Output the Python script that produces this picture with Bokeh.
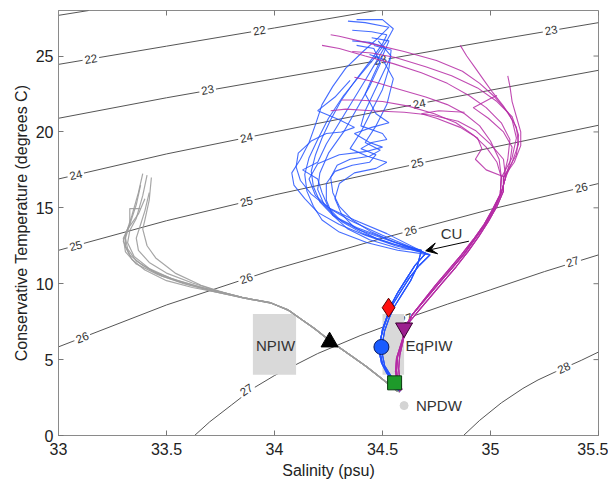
from bokeh.plotting import figure
from bokeh.models import Range1d, FixedTicker, Arrow, VeeHead, ColumnDataSource
from bokeh.core.properties import value
from bokeh.embed import file_html
from bokeh.resources import INLINE

# ---------------- axes ----------------
X_MIN, X_MAX = 33, 35.5
Y_MIN, Y_MAX = 0, 28
X_TICKS = [33, 33.5, 34, 34.5, 35, 35.5]
X_TICK_LABELS = ["33", "33.5", "34", "34.5", "35", "35.5"]
Y_TICKS = [0, 5, 10, 15, 20, 25]
Y_TICK_LABELS = ["0", "5", "10", "15", "20", "25"]

# ---------------- isopycnals (sigma) ----------------
C21_S = [33.0, 33.14]
C21_T = [27.68, 28.0]
C22_S = [33.0, 33.5, 34.0, 34.47]
C22_T = [24.45, 25.65, 26.85, 28.0]
C23_S = [33.0, 33.5, 34.0, 34.5, 35.0, 35.5]
C23_T = [20.9, 22.25, 23.5, 24.75, 26.0, 27.2]
C24_S = [33.0, 33.5, 34.0, 34.5, 35.0, 35.5]
C24_T = [16.9, 18.55, 20.0, 21.4, 22.75, 24.06]
C25_S = [33.0, 33.5, 34.0, 34.5, 35.0, 35.5]
C25_T = [12.2, 14.15, 15.85, 17.4, 18.95, 20.44]
C26_S = [33.0, 33.5, 34.0, 34.5, 35.0, 35.5]
C26_T = [5.84, 8.6, 10.95, 13.0, 14.9, 16.6]
C27_S = [33.63, 33.7, 33.8, 33.9, 34.0, 34.2, 34.4, 34.6, 34.8, 35.0, 35.25, 35.5]
C27_T = [0.0, 0.9, 2.0, 3.1, 3.95, 5.4, 6.6, 7.66, 8.65, 9.6, 10.8, 11.9]
C28_S = [34.875, 34.95, 35.05, 35.15, 35.22, 35.30, 35.42, 35.5]
C28_T = [0.0, 1.0, 2.15, 3.1, 3.66, 4.19, 4.95, 5.5]

CLABEL_TEXT = ["22", "22", "23", "23", "23", "24", "24", "24", "25", "25", "25",
               "26", "26", "26", "26", "27", "27", "27", "28"]
CLABEL_S = [33.15, 33.93, 33.69, 34.49, 35.28, 33.08, 33.87, 34.67, 33.08, 33.87, 34.66,
            33.11, 33.87, 34.63, 35.42, 33.87, 34.61, 35.38, 35.34]
CLABEL_T = [24.8, 26.68, 22.77, 24.75, 26.7, 17.16, 19.62, 21.86, 12.5, 15.41, 17.95,
            6.45, 10.34, 13.49, 16.33, 3.0, 7.7, 11.45, 4.45]
CLABEL_ANGLE_DEG = [9.7, 9.7, 10.2, 10.2, 10.2, 13.0, 11.5, 10.8, 15.3, 13.5, 12.3,
                    21.0, 18.3, 15.0, 13.5, 33.0, 19.6, 17.5, 24.6]

# ---------------- water-mass boxes ----------------
BOX_S_MIN = [33.90, 34.50]
BOX_S_MAX = [34.10, 34.60]
BOX_T_MIN = [4.0, 4.0]
BOX_T_MAX = [8.0, 8.0]

# ---------------- gray profiles (NPIW region) ----------------
GT_A_S = [33.85, 33.98, 34.06, 34.12, 34.18, 34.26, 34.34, 34.42, 34.50, 34.57]
GT_A_T = [9.1, 8.75, 8.3, 7.7, 7.1, 6.2, 5.4, 4.6, 3.7, 2.9]
GT_B_S = [33.86, 33.99, 34.07, 34.13, 34.19, 34.27, 34.35, 34.43, 34.51, 34.58]
GT_B_T = [9.05, 8.7, 8.2, 7.6, 7.0, 6.1, 5.3, 4.5, 3.6, 2.85]

G1_S = [33.39, 33.37, 33.34, 33.31, 33.31, 33.34, 33.40, 33.50, 33.62, 33.75]
G1_T = [17.25, 16.0, 14.5, 13.2, 12.4, 11.6, 10.9, 10.2, 9.75, 9.4]
G2_S = [33.43, 33.42, 33.40, 33.39, 33.41, 33.45, 33.54, 33.66, 33.78]
G2_T = [17.0, 15.5, 14.2, 13.6, 12.5, 11.7, 10.7, 9.9, 9.35]
G3_S = [33.41, 33.39, 33.36, 33.33, 33.32, 33.35, 33.42, 33.52, 33.65, 33.77]
G3_T = [17.15, 15.8, 14.3, 13.5, 12.7, 11.8, 11.0, 10.35, 9.8, 9.4]
G4_S = [33.38, 33.36, 33.33, 33.30, 33.31, 33.36, 33.46, 33.58, 33.70]
G4_T = [16.5, 15.2, 13.9, 13.0, 12.1, 11.3, 10.6, 10.0, 9.55]
G5_S = [33.42, 33.40, 33.38, 33.36, 33.37, 33.42, 33.50, 33.62, 33.74]
G5_T = [16.0, 14.8, 13.9, 13.0, 12.2, 11.4, 10.7, 10.05, 9.5]
G6_S = [33.40, 33.37, 33.32, 33.30, 33.33, 33.39, 33.48, 33.60, 33.72]
G6_T = [15.6, 14.6, 13.6, 12.8, 11.9, 11.2, 10.5, 9.95, 9.5]
G7_S = [33.38, 33.33, 33.33, 33.31, 33.32, 33.36, 33.44, 33.55, 33.68, 33.78]
G7_T = [14.95, 14.95, 13.9, 13.0, 12.3, 11.5, 10.8, 10.2, 9.7, 9.35]

# ---------------- blue profiles ----------------
BL_A_S = [34.58, 34.56, 34.53, 34.50, 34.49, 34.49, 34.50, 34.52, 34.54, 34.57, 34.61, 34.65, 34.70]
BL_A_T = [2.9, 3.4, 4.0, 4.7, 5.4, 6.2, 7.0, 7.8, 8.6, 9.4, 10.3, 11.2, 12.0]
BL_B_S = [34.57, 34.55, 34.52, 34.495, 34.485, 34.49, 34.505, 34.525, 34.55, 34.585, 34.625, 34.67, 34.72]
BL_B_T = [3.0, 3.5, 4.1, 4.8, 5.5, 6.3, 7.1, 7.9, 8.7, 9.5, 10.4, 11.2, 11.9]
BL_C_S = [34.58, 34.565, 34.54, 34.51, 34.50, 34.50, 34.51, 34.53, 34.555, 34.59, 34.63, 34.66, 34.68]
BL_C_T = [2.9, 3.3, 3.9, 4.6, 5.3, 6.1, 6.9, 7.7, 8.5, 9.3, 10.2, 11.1, 12.2]

B1_S = [34.56, 34.42, 34.30, 34.20, 34.14, 34.09, 34.08, 34.12, 34.16, 34.19, 34.22, 34.27, 34.33, 34.41, 34.48, 34.53, 34.42, 34.34]
B1_T = [12.5, 13.2, 13.9, 14.7, 15.6, 16.5, 17.3, 18.2, 19.3, 20.5, 21.8, 23.0, 24.2, 25.3, 26.2, 26.9, 27.2, 27.3]
B2_S = [34.53, 34.38, 34.27, 34.21, 34.18, 34.17, 34.19, 34.22, 34.26, 34.31, 34.38, 34.45, 34.50, 34.52, 34.45, 34.36]
B2_T = [12.9, 13.7, 14.5, 15.4, 16.4, 17.4, 18.5, 19.6, 20.8, 22.1, 23.5, 24.8, 25.8, 26.4, 26.6, 26.7]
B3_S = [34.58, 34.44, 34.34, 34.27, 34.24, 34.24, 34.28, 34.36, 34.44, 34.47, 34.40, 34.45, 34.52, 34.50, 34.40, 34.42, 34.46, 34.50, 34.54, 34.48]
B3_T = [12.3, 12.9, 13.6, 14.5, 15.5, 16.6, 17.4, 17.8, 18.0, 18.5, 18.9, 19.3, 19.5, 19.9, 20.4, 21.4, 22.6, 23.8, 25.0, 26.0]
B4_S = [34.50, 34.36, 34.26, 34.19, 34.16, 34.20, 34.30, 34.42, 34.50, 34.44, 34.37, 34.45, 34.53, 34.47, 34.42, 34.46, 34.50, 34.53, 34.45]
B4_T = [13.2, 14.1, 14.9, 15.8, 16.9, 17.9, 18.5, 18.7, 19.0, 19.3, 19.9, 20.3, 20.6, 21.2, 22.5, 23.8, 25.0, 26.0, 26.2]
B5_S = [34.57, 34.43, 34.30, 34.22, 34.18, 34.15, 34.14, 34.16, 34.20, 34.25, 34.32, 34.40, 34.47, 34.52, 34.55, 34.50, 34.38]
B5_T = [12.2, 12.7, 13.4, 14.2, 15.1, 16.1, 17.2, 18.3, 19.5, 20.9, 22.4, 23.8, 25.0, 26.0, 26.8, 27.4, 27.4]
B6_S = [34.54, 34.40, 34.29, 34.23, 34.20, 34.21, 34.25, 34.32, 34.38, 34.44, 34.49, 34.46, 34.38]
B6_T = [12.8, 13.5, 14.3, 15.2, 16.2, 17.3, 18.6, 20.0, 21.5, 23.0, 24.5, 25.5, 25.7]
B7_S = [34.52, 34.37, 34.25, 34.17, 34.12, 34.10, 34.11, 34.17, 34.24, 34.31, 34.37, 34.30, 34.20, 34.28, 34.35]
B7_T = [13.3, 14.2, 15.0, 15.9, 16.8, 17.7, 18.6, 19.4, 19.9, 20.0, 20.3, 20.8, 21.4, 22.3, 23.4]
B8_S = [34.56, 34.45, 34.36, 34.30, 34.27, 34.26, 34.29, 34.35, 34.44, 34.49, 34.42, 34.47, 34.52, 34.55, 34.50, 34.44]
B8_T = [12.7, 13.4, 14.2, 15.1, 16.0, 17.0, 17.8, 18.2, 18.4, 18.8, 19.3, 20.4, 21.8, 23.5, 24.8, 25.1]
B9_S = [34.55, 34.41, 34.31, 34.25, 34.22, 34.20, 34.13, 34.20, 34.24, 34.30, 34.36, 34.42, 34.47, 34.51, 34.44, 34.36]
B9_T = [12.6, 13.3, 14.1, 15.0, 16.0, 16.9, 17.5, 18.0, 19.2, 20.6, 22.0, 23.4, 24.6, 25.6, 25.9, 26.0]
B10_S = [34.60, 34.47, 34.37, 34.31, 34.28, 34.30, 34.37, 34.47, 34.52, 34.43, 34.35, 34.40, 34.45, 34.50, 34.53, 34.54, 34.46]
B10_T = [12.4, 13.0, 13.7, 14.6, 15.6, 16.6, 17.3, 17.6, 18.0, 18.4, 18.9, 20.0, 21.4, 22.8, 24.2, 25.4, 25.7]

# ---------------- magenta profiles ----------------
ML_A_S = [34.58, 34.57, 34.565, 34.57, 34.59, 34.60, 34.61, 34.64, 34.70, 34.76, 34.82, 34.88, 34.93, 34.98, 35.02, 35.05, 35.07]
ML_A_T = [2.9, 3.5, 4.3, 5.2, 6.1, 6.8, 7.3, 8.0, 9.0, 10.0, 11.0, 12.0, 13.0, 14.0, 15.0, 16.0, 17.0]
ML_B_S = [34.59, 34.58, 34.575, 34.58, 34.595, 34.605, 34.62, 34.66, 34.72, 34.78, 34.84, 34.895, 34.945, 34.99, 35.03, 35.06, 35.06]
ML_B_T = [3.0, 3.6, 4.4, 5.3, 6.2, 6.9, 7.4, 8.1, 9.1, 10.1, 11.1, 12.1, 13.1, 14.1, 15.1, 16.1, 17.0]
ML_C_S = [34.585, 34.57, 34.56, 34.565, 34.585, 34.60, 34.615, 34.635, 34.69, 34.745, 34.805, 34.865, 34.92, 34.97, 35.01, 35.045, 35.05]
ML_C_T = [2.95, 3.4, 4.2, 5.1, 6.0, 6.7, 7.2, 7.9, 8.9, 9.9, 10.9, 11.9, 12.9, 13.9, 14.9, 15.9, 17.0]

M1_S = [35.10, 35.13, 35.12, 35.08, 35.02, 34.95, 34.87, 34.75, 34.60, 34.45, 34.30, 34.26]
M1_T = [18.0, 19.2, 20.3, 21.3, 22.3, 23.2, 24.0, 24.7, 25.3, 25.8, 26.3, 26.4]
M2_S = [35.08, 35.09, 35.05, 34.98, 34.90, 34.80, 34.68, 34.55, 34.42, 34.30, 34.22]
M2_T = [18.2, 19.5, 20.6, 21.6, 22.4, 23.2, 23.9, 24.5, 25.0, 25.5, 25.7]
M3_S = [35.03, 34.98, 34.92, 34.84, 34.74, 34.62, 34.50, 34.38, 34.31]
M3_T = [18.0, 19.0, 19.8, 20.6, 21.2, 21.7, 22.0, 22.1, 22.1]
M4_S = [35.06, 35.00, 34.93, 34.85, 34.73, 34.60, 34.45, 34.33, 34.26]
M4_T = [18.2, 19.2, 20.1, 20.7, 21.1, 21.3, 21.4, 21.5, 21.4]
M5_S = [35.11, 35.14, 35.14, 35.12, 35.10, 35.09, 35.08]
M5_T = [18.0, 19.1, 20.0, 21.0, 22.0, 23.0, 23.7]
M6_S = [35.10, 35.12, 35.10, 35.06, 35.01, 34.97, 34.93, 34.89, 34.86]
M6_T = [18.3, 19.6, 20.8, 21.7, 22.6, 23.4, 24.2, 25.0, 25.7]
M7_S = [34.98, 34.93, 34.96, 34.94, 34.86, 34.75, 34.68, 34.76, 34.88]
M7_T = [17.5, 18.2, 18.9, 19.6, 20.3, 20.9, 21.2, 21.4, 21.3]
M8_S = [35.12, 35.13, 35.10, 35.03, 34.94, 34.82, 34.70, 34.56, 34.45, 34.36]
M8_T = [18.5, 19.8, 21.0, 22.0, 22.9, 23.7, 24.3, 24.9, 25.2, 25.3]
M9_S = [35.04, 35.00, 34.95, 34.88, 34.80, 34.70, 34.58, 34.46, 34.37]
M9_T = [18.2, 19.4, 20.4, 21.2, 21.8, 22.3, 22.8, 23.3, 23.6]
M10_S = [35.09, 35.10, 35.06, 34.99, 34.92, 35.00, 35.03]
M10_T = [18.0, 19.0, 20.0, 20.9, 21.6, 22.2, 22.4]

# ---------------- water-mass markers ----------------
MARKER_S = [34.255, 34.528, 34.600, 34.495, 34.556, 34.600]
MARKER_T = [6.16, 8.42, 7.09, 5.83, 3.47, 1.97]

# ---------------- annotation texts ----------------
NOTE_TEXT = ["NPIW", "EqPIW", "NPDW", "CU"]
NOTE_S = [34.005, 34.607, 34.655, 34.82]
NOTE_T = [5.9, 5.9, 1.97, 13.3]
CU_ARROW_S = [34.90, 34.70]
CU_ARROW_T = [12.8, 12.17]

FONT = "Liberation Sans"

p = figure(frame_width=540, frame_height=425,
           x_range=Range1d(X_MIN, X_MAX), y_range=Range1d(Y_MIN, Y_MAX),
           output_backend="svg", toolbar_location=None,
           min_border_left=58, min_border_right=10, min_border_top=10, min_border_bottom=40,
           x_axis_label="Salinity (psu)", y_axis_label="Conservative Temperature (degrees C)")
p.grid.visible = False
p.outline_line_color = "#8a8a8a"
p.background_fill_color = "white"
p.border_fill_color = "white"

for ax, ticks, labels in ((p.xaxis[0], X_TICKS, X_TICK_LABELS), (p.yaxis[0], Y_TICKS, Y_TICK_LABELS)):
    ax.ticker = FixedTicker(ticks=ticks)
    ax.major_label_overrides = {t: l for t, l in zip(ticks, labels)}
    ax.major_tick_in = 5
    ax.major_tick_out = 0
    ax.minor_tick_line_color = None
    ax.axis_line_color = "#8a8a8a"
    ax.major_tick_line_color = "#777777"
    ax.major_label_text_font = FONT
    ax.major_label_text_font_size = "16px"
    ax.major_label_text_color = "#222222"
    ax.axis_label_text_font = FONT
    ax.axis_label_text_font_size = "16px"
    ax.axis_label_text_font_style = "normal"
    ax.axis_label_text_color = "#222222"
p.xaxis[0].major_label_standoff = 7
p.xaxis[0].axis_label_standoff = 4
p.yaxis[0].major_label_standoff = 5
p.yaxis[0].axis_label_standoff = 3

# mirrored inward ticks on the top and right frame edges (half of each dash is clipped by the frame)
p.scatter(x=X_TICKS, y=[Y_MAX] * len(X_TICKS), marker="dash", angle=1.5707963, size=10,
          line_color="#777777", line_width=1)
p.scatter(x=[X_MAX] * len(Y_TICKS), y=Y_TICKS, marker="dash", size=10,
          line_color="#777777", line_width=1)

# isopycnals
p.multi_line(xs=[C21_S, C22_S, C23_S, C24_S, C25_S, C26_S, C27_S, C28_S],
             ys=[C21_T, C22_T, C23_T, C24_T, C25_T, C26_T, C27_T, C28_T],
             line_color="#555555", line_width=1)
p.text(x=CLABEL_S, y=CLABEL_T, text=CLABEL_TEXT,
       angle=[a * 3.14159265 / 180 for a in CLABEL_ANGLE_DEG],
       text_font=value(FONT), text_font_size="11.5px", text_color="#333333",
       text_align="center", text_baseline="middle",
       background_fill_color="white", padding=2)

# water-mass boxes
p.quad(left=BOX_S_MIN, right=BOX_S_MAX, bottom=BOX_T_MIN, top=BOX_T_MAX,
       fill_color="#d9d9d9", line_color=None)

# gray profiles
g_xs = [G1_S + GT_A_S, G2_S + GT_B_S, G3_S + GT_A_S, G4_S + GT_B_S, G5_S + GT_A_S, G6_S + GT_B_S, G7_S + GT_A_S]
g_ys = [G1_T + GT_A_T, G2_T + GT_B_T, G3_T + GT_A_T, G4_T + GT_B_T, G5_T + GT_A_T, G6_T + GT_B_T, G7_T + GT_A_T]
p.multi_line(xs=g_xs, ys=g_ys, line_color="#9c9c9c", line_width=1.2, line_alpha=0.9)

# blue profiles
lows_b = [(BL_A_S, BL_A_T), (BL_B_S, BL_B_T), (BL_C_S, BL_C_T)]
ups_b = [(B1_S, B1_T), (B2_S, B2_T), (B3_S, B3_T), (B4_S, B4_T), (B5_S, B5_T),
         (B6_S, B6_T), (B7_S, B7_T), (B8_S, B8_T), (B9_S, B9_T), (B10_S, B10_T)]
b_xs = [lows_b[i % 3][0] + u[0] for i, u in enumerate(ups_b)]
b_ys = [lows_b[i % 3][1] + u[1] for i, u in enumerate(ups_b)]
p.multi_line(xs=b_xs, ys=b_ys, line_color="#2553ff", line_width=1.1, line_alpha=0.85)

# magenta profiles
lows_m = [(ML_A_S, ML_A_T), (ML_B_S, ML_B_T), (ML_C_S, ML_C_T)]
ups_m = [(M1_S, M1_T), (M2_S, M2_T), (M3_S, M3_T), (M4_S, M4_T), (M5_S, M5_T),
         (M6_S, M6_T), (M7_S, M7_T), (M8_S, M8_T), (M9_S, M9_T), (M10_S, M10_T)]
m_xs = [lows_m[i % 3][0] + u[0] for i, u in enumerate(ups_m)]
m_ys = [lows_m[i % 3][1] + u[1] for i, u in enumerate(ups_m)]
p.multi_line(xs=m_xs, ys=m_ys, line_color="#b52aa5", line_width=1.1, line_alpha=0.85)

# markers
msrc = ColumnDataSource(dict(
    s=MARKER_S, t=MARKER_T,
    marker=["triangle", "diamond", "inverted_triangle", "circle", "square", "circle"],
    size=[17, 19, 17, 15, 14, 8],
    fill=["#000000", "#ff1010", "#9c1f8f", "#1a5cff", "#1e9a2a", "#d4d4d4"],
    line=["#000000", "#5a0000", "#3a0030", "#0a1a60", "#0a3a10", "#d4d4d4"],
))
p.scatter(x="s", y="t", marker="marker", size="size", fill_color="fill",
          line_color="line", line_width=1, source=msrc)

# notes
p.text(x=NOTE_S, y=NOTE_T, text=NOTE_TEXT,
       text_align=["center", "left", "left", "center"], text_baseline="middle",
       text_font=value(FONT), text_font_size="15px", text_color="#333333")
p.add_layout(Arrow(end=VeeHead(size=11, fill_color="black", line_color="black", line_width=1),
                   x_start=CU_ARROW_S[0], y_start=CU_ARROW_T[0],
                   x_end=CU_ARROW_S[1], y_end=CU_ARROW_T[1],
                   line_color="black", line_width=1))

open("out.html", "w").write(file_html(p, INLINE))
